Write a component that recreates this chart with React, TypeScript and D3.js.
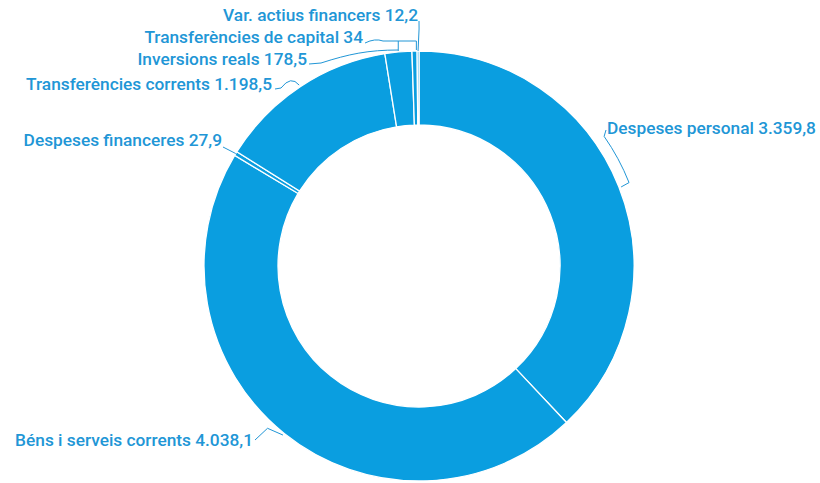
import React from "react";
import * as d3 from "d3";

const categories = [
  "Despeses personal",
  "Béns i serveis corrents",
  "Despeses financeres",
  "Transferències corrents",
  "Inversions reals",
  "Transferències de capital",
  "Var. actius financers",
];
const values = [3359.8, 4038.1, 27.9, 1198.5, 178.5, 34, 12.2];

// label text anchors (layout)
const labelX = [607, 253, 222, 272, 307, 363, 418];
const labelY = [134, 446, 146, 90, 65, 43, 21];
const labelAnchor = ["start", "end", "end", "end", "end", "end", "end"];

const W = 820;
const H = 483;
const CX = 419;
const CY = 266;
const R_OUT = 215;
const R_IN = 141;
const FILL = "#0A9EE0";
const TEXT = "#2196D6";

const loc = d3.formatLocale({ decimal: ",", thousands: ".", grouping: [3], currency: ["", "€"] });
const f1 = loc.format(",.1f");
const f0 = loc.format(",.0f");
const fmt = (v: number) => (Number.isInteger(v) ? f0(v) : f1(v));

const deg = (a: number) => (a * 180) / Math.PI;
const rad = (d: number) => (d * Math.PI) / 180;
const polar = (angleDeg: number, r: number): [number, number] => [
  CX + r * Math.sin(rad(angleDeg)),
  CY - r * Math.cos(rad(angleDeg)),
];

export default function App() {
  const pie = d3
    .pie<number>()
    .sort(null)
    .value((d) => d)
    .startAngle(0)
    .endAngle(2 * Math.PI);
  const arcs = pie(values);
  const arc = d3.arc<d3.PieArcDatum<number>>().innerRadius(R_IN).outerRadius(R_OUT);

  const mid = arcs.map((a) => deg((a.startAngle + a.endAngle) / 2));
  const end = arcs.map((a) => deg(a.endAngle));

  const leaders: string[] = [];
  const line = d3.line();

  // 0: Despeses personal - curved bracket
  {
    const a1 = 55, a2 = mid[0];
    const rb = 226;
    const p0: [number, number] = [labelX[0] - 1, labelY[0] - 4];
    const p1 = polar(a1, rb);
    const p2 = polar(a2, rb);
    const p3 = polar(a2 + 0.3, R_OUT + 2);
    leaders.push(`M${p0[0]},${p0[1]} L${p1[0]},${p1[1]} A${rb},${rb} 0 0 1 ${p2[0]},${p2[1]} L${p3[0]},${p3[1]}`);
  }
  // 1: Béns - caret
  {
    const p0: [number, number] = [labelX[1] + 2, labelY[1] - 6];
    const tip = polar(mid[1] + 4.2, 222);
    const e = polar(mid[1], R_OUT + 2);
    leaders.push(line([p0, tip, e]) as string);
  }
  // 2: financeres - straight
  {
    const p0: [number, number] = [labelX[2] + 1, labelY[2] + 1];
    const e = polar(mid[2], R_OUT);
    leaders.push(line([p0, e]) as string);
  }
  // 3: corrents - small bump
  {
    const p0: [number, number] = [labelX[3] + 3, labelY[3] - 1];
    const e = polar(mid[3], R_OUT + 2);
    leaders.push(`M${p0[0]},${p0[1]} L${p0[0] + 6},${p0[1] - 1} Q${p0[0] + 16},${p0[1] - 14} ${e[0]},${e[1]}`);
  }
  // 4: inversions - curve to ring
  {
    const p0: [number, number] = [labelX[4] + 2, labelY[4] - 1];
    const e = polar(mid[4], R_OUT + 2);
    leaders.push(`M${p0[0]},${p0[1]} L${p0[0] + 12},${p0[1] - 1} C${p0[0] + 40},${p0[1] - 10} ${e[0] - 30},${e[1]} ${e[0]},${e[1]}`);
  }
  // 5: capital - bracket
  {
    const p0: [number, number] = [labelX[5] + 2, labelY[5]];
    const l = polar(mid[4], R_OUT + 1);
    const r = polar(end[5] - 0.2, R_OUT + 1);
    const yb = labelY[5] - 2;
    leaders.push(
      `M${p0[0]},${p0[1]} Q${p0[0] + 10},${yb - 3} ${p0[0] + 18},${yb} L${r[0]},${yb} M${l[0]},${l[1]} L${l[0]},${yb} M${r[0]},${r[1]} L${r[0]},${yb}`
    );
  }
  // 6: var - vertical
  {
    const p0: [number, number] = [labelX[6] + 1, labelY[6]];
    const e = polar(mid[6], R_OUT);
    leaders.push(line([p0, [e[0] + 1, p0[1] + 8], e]) as string);
  }

  return (
    <div style={{ position: "absolute", left: 0, top: 0 }}>
      <svg width={W} height={H} style={{ display: "block", background: "#fff" }}>
        <g transform={`translate(${CX},${CY})`}>
          {arcs.map((a, i) => (
            <path key={i} d={arc(a) as string} fill={FILL} stroke="#fff" strokeWidth={1.3} />
          ))}
        </g>
        {leaders.map((d, i) => (
          <path key={i} d={d} fill="none" stroke={TEXT} strokeWidth={1} />
        ))}
        {categories.map((c, i) => (
          <text
            key={c}
            x={labelX[i]}
            y={labelY[i]}
            textAnchor={labelAnchor[i] as any}
            fill={TEXT}
            fontFamily="Roboto"
            fontWeight={500}
            fontSize={17.3}
          >
            {`${c} ${fmt(values[i])}`}
          </text>
        ))}
      </svg>
    </div>
  );
}
